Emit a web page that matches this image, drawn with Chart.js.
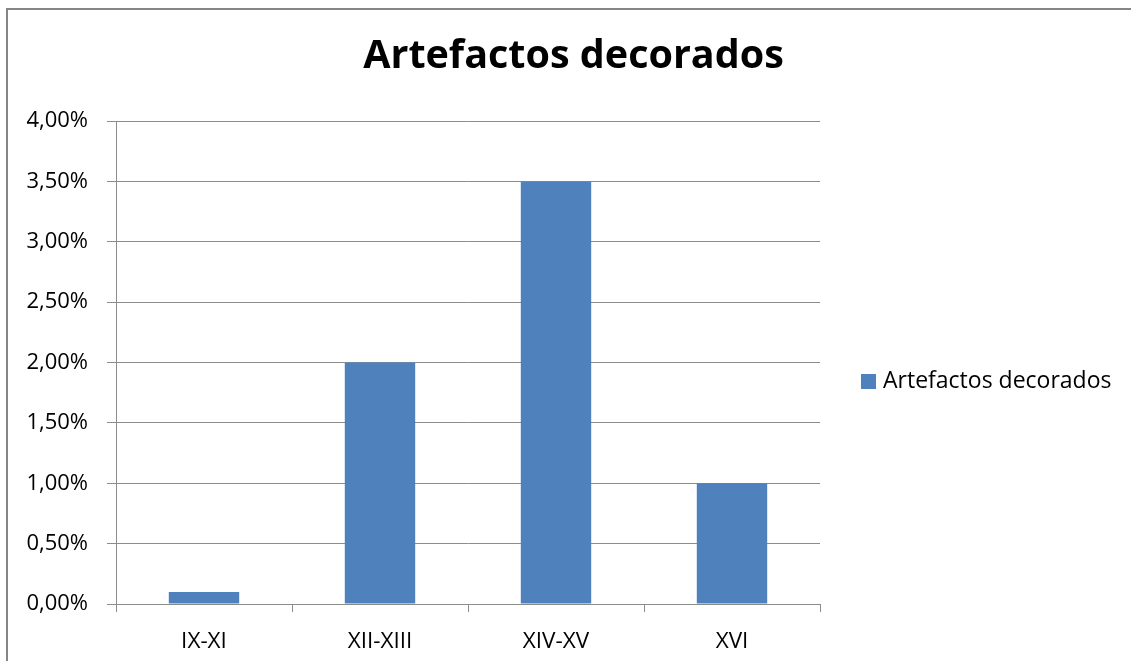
<!DOCTYPE html>
<html><head><meta charset="utf-8">
<script src="https://cdn.jsdelivr.net/npm/chart.js@4"></script>
<style>html,body{margin:0;padding:0;background:#fff}canvas{display:block}</style>
</head><body>
<canvas id="c" width="1131" height="661"></canvas>
<script>
const categories = ["IX-XI", "XII-XIII", "XIV-XV", "XVI"];
const seriesName = "Artefactos decorados";
const seriesValues = [0.1, 2.0, 3.5, 1.0];
const yTickValues = [0, 0.5, 1, 1.5, 2, 2.5, 3, 3.5, 4];
const chartTitle = "Artefactos decorados";

const FONT = "'Open Sans', 'Liberation Sans', sans-serif";
const BAR = "#4F81BD";
const GRID = "#8C8C8C";

const frame = {
  id: 'frame',
  beforeDraw(chart) {
    const ctx = chart.ctx;
    ctx.save();
    ctx.fillStyle = '#fff';
    ctx.fillRect(0, 0, chart.width, chart.height);
    ctx.strokeStyle = '#868686';
    ctx.lineWidth = 2;
    ctx.strokeRect(7, 9, chart.width + 20, chart.height + 20);
    ctx.restore();
  }
};
const sideLegend = {
  id: 'sideLegend',
  afterDraw(chart) {
    const ctx = chart.ctx;
    const ds = chart.data.datasets[0];
    ctx.save();
    ctx.fillStyle = ds.backgroundColor;
    const cy = 381.5;
    ctx.fillRect(861, cy - 7.5, 15, 15);
    ctx.fillStyle = '#000';
    ctx.font = "23px " + FONT;
    ctx.textBaseline = 'middle';
    ctx.textAlign = 'left';
    ctx.fillText(ds.label, 883, cy);
    ctx.restore();
  }
};

new Chart(document.getElementById('c'), {
  type: 'bar',
  data: {
    labels: categories,
    datasets: [{
      label: seriesName,
      data: seriesValues,
      backgroundColor: BAR,
      borderWidth: 0,
      barPercentage: 0.4,
      categoryPercentage: 1.0
    }]
  },
  options: {
    responsive: false,
    animation: false,
    devicePixelRatio: 1,
    layout: { padding: { left: 16, right: 0, top: 0, bottom: 0 } },
    plugins: {
      legend: { display: false },
      tooltip: { enabled: false },
      title: {
        display: true,
        text: chartTitle,
        color: '#000',
        font: { family: FONT, size: 39.5, weight: 'bold', lineHeight: 1.2 },
        padding: { top: 33.5, bottom: 40.1 }
      }
    },
    scales: {
      x: {
        offset: true,
        grid: { display: true, drawOnChartArea: false, drawTicks: true, tickLength: 8, color: GRID, lineWidth: 1, offset: true },
        border: { display: true, color: GRID, width: 1 },
        ticks: { color: '#000', font: { family: FONT, size: 22.5 }, padding: 16 },
        afterFit(s) { s.height = 57; }
      },
      y: {
        min: 0, max: 4,
        afterBuildTicks(s) { s.ticks = yTickValues.map(v => ({ value: v })); },
        grid: { color: GRID, lineWidth: 1, tickLength: 9 },
        border: { display: true, color: GRID, width: 1 },
        ticks: {
          color: '#000',
          font: { family: FONT, size: 22 },
          padding: 19,
          callback: v => v.toFixed(2).replace('.', ',') + '%'
        },
        afterFit(s) { s.width = 100; }
      },
      legendSpace: {
        type: 'linear',
        position: 'right',
        min: 0, max: 1,
        grid: { display: false },
        border: { display: false },
        ticks: { display: false },
        afterFit(s) { s.width = 311; }
      }
    }
  },
  plugins: [frame, sideLegend]
});
</script>
</body></html>
